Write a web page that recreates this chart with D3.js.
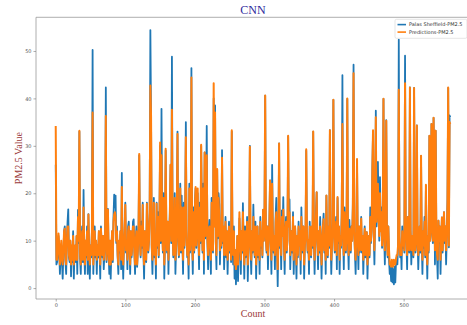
<!DOCTYPE html>
<html>
<head>
<meta charset="utf-8">
<script src="https://cdn.jsdelivr.net/npm/d3@7"></script>
<style>
  html, body { margin: 0; padding: 0; background: #fff; }
  svg { display: block; }
</style>
</head>
<body>
<svg id="chart" width="467" height="325"></svg>
<script>
// Measured PM2.5 from the Palas Sheffield sensor
const actual = [
  26, 5, 5.5, 7, 11, 8, 3, 6.5, 9, 5.5, 2, 7.5, 12, 13, 5.5, 3, 10, 14, 16.6, 6.5,
  5.5, 10, 2.5, 8.5, 5.5, 12, 2, 7.5, 9, 5.5, 11, 3, 16.5, 9.5, 33, 6.5, 3, 9.5, 13, 5.5,
  20.7, 7.5, 3, 10, 6.5, 13, 3, 15.6, 7.5, 2, 9, 6.5, 12, 50.2, 3, 8.5, 13, 6.5, 10, 3,
  9, 6.5, 12, 7.5, 2, 13, 8.5, 6.5, 11, 4, 7.5, 12, 42.3, 5.5, 9, 16.7, 7.5, 3, 10, 2,
  8, 12, 5.5, 15, 19.7, 17, 19.5, 9.5, 13, 6.5, 3, 10, 7.5, 12, 4, 24.3, 7.5, 2, 9, 12,
  18, 7.5, 10, 4, 13, 14, 8.5, 3, 12, 6.5, 9, 14, 14.5, 7.5, 3, 10, 13, 4.5, 8, 12,
  28, 10, 6.5, 14, 8.5, 18, 7.5, 2, 12, 9.5, 5.5, 18, 12, 7.5, 10, 16, 54.4, 36, 8.5, 3,
  11, 19, 6.5, 10, 2, 18, 8.5, 16, 6.5, 14, 30, 9.5, 37.8, 13, 7.5, 20, 2, 9.5, 29, 12,
  7.5, 14, 3, 11, 16, 26, 9.5, 48.8, 12, 6.5, 10, 20, 3, 8.5, 17, 33, 10, 6.5, 9, 22,
  7.5, 19.5, 10, 3, 18, 8.5, 16, 35, 12, 6.5, 9, 2, 22, 7.5, 11, 46.4, 9.5, 3, 17, 7.5,
  18, 21, 8.5, 14, 20, 10.5, 4, 18, 9.5, 30, 16, 7.5, 22, 3, 28.6, 10.5, 15, 34.2, 9.5, 4,
  12, 14.4, 8.5, 3, 19, 10.5, 7.5, 40, 13, 38.5, 9.5, 4, 25, 10.5, 20, 17.6, 5, 12, 8.5, 29.1,
  9.5, 13, 4, 10, 15, 6.5, 12, 3, 9, 14, 7.5, 11, 5.5, 33, 9.5, 5, 13, 2, 8, 0.8,
  5.5, 11, 1.5, 8.5, 14.7, 9.5, 3, 12, 7.5, 17.9, 9, 2, 13, 6.5, 10, 15, 1.5, 8, 11, 30,
  8.5, 3, 12, 7.5, 17.6, 10, 6.5, 14, 2, 9, 13, 6.5, 11, 3, 15, 8.5, 12, 6.5, 16.5, 10,
  14, 40.6, 11, 7.5, 13, 4, 10, 14, 22.7, 9.5, 3, 26, 12, 7.5, 11, 4, 15, 19, 8.5, 0.4,
  10, 30.5, 8.5, 13, 4, 16.4, 11, 19.2, 9.5, 3, 12, 15, 7.5, 10, 32, 13, 18.7, 4, 9, 12,
  7.5, 16, 3, 10, 13, 8.5, 2, 11, 6.5, 14, 9, 12, 3, 17, 10, 7.5, 13, 2, 9, 11,
  29, 12, 7.5, 10, 3, 14, 9, 6.5, 13, 8.5, 33, 11, 3, 10, 16, 20.2, 9.5, 4, 12, 7.5,
  15, 10, 2, 9, 13, 15.7, 7.5, 11, 3, 19.5, 10, 6.5, 13, 8.5, 33.3, 11, 3, 9, 14, 39.7,
  12, 7.5, 10, 15, 4, 19, 9.5, 13, 3, 11, 8.5, 16, 44.9, 10.5, 4, 17, 12, 7.5, 14, 39.9,
  9.5, 4, 14.4, 11, 7.5, 13, 10, 18, 47.1, 12, 7.5, 3, 11, 27, 9.5, 4, 13, 7.5, 10, 15,
  7.5, 11, 3, 9, 13, 6.5, 10, 11.8, 2, 8, 11, 6.5, 17, 9.5, 13, 24.8, 33, 11, 5, 15,
  37.4, 13, 18, 26.6, 15, 10, 23.4, 12, 17, 8.5, 14, 39.9, 11, 5, 15, 35.4, 10, 6.5, 13, 6,
  3, 4.5, 1.5, 5.5, 1.2, 4, 0.8, 4.5, 1.2, 5.5, 6.5, 5, 9, 52.4, 11, 6.5, 9, 4, 13, 8.5,
  11, 7.5, 49, 13, 9.5, 4, 15, 10, 7.5, 42.3, 12, 5, 11, 9.5, 6.5, 42.2, 13, 7.5, 10, 34.3,
  11, 4, 9, 13, 7.5, 27.9, 10, 3, 12, 8.5, 15, 6.5, 21.6, 9, 2, 11, 7.5, 32.1, 10, 13,
  34.6, 12, 9.5, 35.9, 24, 5, 33.2, 11, 6.5, 2, 14.2, 9.5, 13, 3, 10, 14.9, 7.5, 12, 16, 9.5,
  13, 5, 11, 19, 42.2, 8.6, 36.4, 36
];

// CNN model predictions for the same samples
const predicted = [
  34.2, 6, 6, 8, 11.5, 9, 5, 7, 10, 6, 5, 8, 12, 12.5, 6, 5, 10, 13, 13, 7,
  6, 10, 5, 9, 6, 11, 5, 8, 9, 6, 11, 6, 15, 10, 33.2, 7, 5, 10, 12, 6,
  17, 8, 5, 10, 7, 12, 6, 15.5, 8, 5, 9, 7, 12, 37, 5, 9, 12, 7, 10, 6,
  9, 7, 12, 8, 5, 12.5, 9, 7, 11, 6, 8, 12, 36.3, 6, 9, 16.5, 8, 5, 10, 5,
  8, 12, 6, 14, 15.5, 16, 15, 10, 12, 7, 5, 10, 8, 12, 6, 21.3, 8, 5, 9, 12,
  17.5, 8, 10, 6, 12, 13, 9, 5, 12, 7, 9, 13, 13, 8, 5, 10, 12, 5, 8, 12,
  28.3, 10, 7, 13, 9, 17.5, 8, 5, 12, 10, 6, 17.8, 12, 8, 10, 15, 42.7, 36.3, 9, 6,
  11, 18, 7, 10, 5, 17.8, 9, 15, 7, 13, 30.7, 10, 28, 13, 8, 19, 5, 10, 29.4, 12,
  8, 14, 6, 11, 15, 26, 10, 37.6, 12, 7, 10, 19, 6, 9, 16, 32.5, 11, 7, 9, 21,
  8, 17, 10, 6, 17, 9, 15, 31.8, 12, 7, 9, 5, 21, 8, 11, 44.4, 10, 6, 16, 8,
  17, 21.3, 9, 14, 21, 11, 7, 17, 10, 30.2, 15, 8, 21, 6, 28.6, 11, 14, 28, 10, 7,
  12, 13, 9, 6, 18, 11, 8, 43.2, 13, 37, 10, 7, 25.1, 11, 19, 15, 8, 12, 9, 27.5,
  10, 13, 7, 10, 14, 7, 12, 6, 9, 13, 8, 11, 6, 33.3, 10, 7, 12, 5, 8, 4,
  6, 11, 5, 9, 16, 10, 6, 12, 8, 16, 9, 5, 12, 7, 10, 14, 5, 8, 11, 29.8,
  9, 6, 12, 8, 15, 10, 7, 13, 5, 9, 13, 7, 11, 6, 14, 9, 12, 7, 16.5, 10,
  14, 40.6, 11, 8, 13, 7, 10, 13, 22.7, 10, 6, 22, 12, 8, 11, 7, 14, 16, 9, 4,
  10, 30.5, 9, 13, 7, 15, 11, 16.5, 10, 6, 12, 14, 8, 10, 32.1, 13, 16, 7, 9, 12,
  8, 15, 6, 10, 13, 9, 5, 11, 7, 13, 9, 12, 6, 15, 10, 8, 13, 5, 9, 11,
  29.3, 12, 8, 10, 6, 13, 9, 7, 13, 9, 33, 11, 6, 10, 15, 20.2, 10, 7, 12, 8,
  13, 10, 5, 9, 13, 14.5, 8, 11, 6, 19.5, 10, 7, 13, 9, 33.3, 11, 6, 9, 13, 39.7,
  12, 8, 10, 14, 7, 19.2, 10, 13, 6, 11, 9, 15, 34.6, 11, 7, 16, 12, 8, 13, 40,
  10, 7, 12.5, 11, 8, 13, 10, 17, 45.3, 12, 8, 6, 11, 27.2, 10, 7, 13, 8, 10, 14.6,
  8, 11, 6, 9, 12.5, 7, 10, 11.8, 5, 8, 11, 7, 15, 10, 13, 24.8, 33.3, 12, 8, 15,
  36, 14, 18, 22, 15, 11, 20, 12, 16, 9, 14, 39.9, 11, 8, 15, 35.3, 11, 7, 13, 8,
  5, 5, 4.5, 6, 5, 4.5, 6, 5, 5, 6, 7, 7, 9, 41.8, 11, 7, 9, 7, 12, 9,
  10.4, 8, 43.2, 13, 10, 7, 15, 10, 8, 42.3, 12, 8, 11, 10, 7, 42.2, 13, 8, 10, 34.3,
  11, 7, 9, 13, 8, 27.9, 10, 6, 12, 9, 14, 7, 21.8, 9, 5, 11, 8, 32.1, 10, 13,
  34.6, 13, 10, 35.9, 22, 8, 33.2, 11, 7, 6, 14.2, 10, 13, 6, 10, 14.9, 8, 12, 16, 10,
  13, 8, 11, 18, 42.3, 9, 35, 34.6
];

const seriesNames = ["Palas Sheffield-PM2.5", "Predictions-PM2.5"];
const seriesColors = ["#1f77b4", "#ff7f0e"];
const xTicks = [0, 100, 200, 300, 400, 500];
const yTicks = [0, 10, 20, 30, 40, 50];

const svg = d3.select("#chart");
const frame = { left: 36, right: 470, top: 17.3, bottom: 299 };

// Matplotlib-style 5% margins around the data range
function padded(lo, hi) {
  const p = (hi - lo) * 0.05;
  return [lo - p, hi + p];
}
const n = actual.length;
const all = actual.concat(predicted);
const x = d3.scaleLinear().domain(padded(0, n - 1)).range([frame.left, frame.right]);
const y = d3.scaleLinear().domain(padded(d3.min(all), d3.max(all))).range([frame.bottom, frame.top]);

svg.append("defs").append("clipPath").attr("id", "axclip")
  .append("rect")
  .attr("x", frame.left).attr("y", frame.top)
  .attr("width", frame.right - frame.left).attr("height", frame.bottom - frame.top);

const plot = svg.append("g").attr("clip-path", "url(#axclip)");
const line = d3.line().x((d, i) => x(i)).y(d => y(d));
const widths = [1.8, 2];

[actual, predicted].forEach((vals, k) => {
  plot.append("path")
    .datum(vals)
    .attr("fill", "none")
    .attr("stroke", seriesColors[k])
    .attr("stroke-width", widths[k])
    .attr("stroke-linejoin", "round")
    .attr("d", line);
});

// Axes box
const spine = "#9a9a9a";
[[frame.left, frame.top, frame.left, frame.bottom],
 [frame.left, frame.bottom, frame.right, frame.bottom],
 [frame.left, frame.top, frame.right, frame.top],
 [frame.right, frame.top, frame.right, frame.bottom]].forEach(s => {
  svg.append("line")
    .attr("x1", s[0]).attr("y1", s[1]).attr("x2", s[2]).attr("y2", s[3])
    .attr("stroke", spine).attr("stroke-width", 0.8);
});

// Tick marks and labels
const xAxis = svg.append("g").attr("transform", `translate(0,${frame.bottom})`)
  .call(d3.axisBottom(x).tickValues(xTicks).tickSize(2.5).tickPadding(2));
const yAxis = svg.append("g").attr("transform", `translate(${frame.left},0)`)
  .call(d3.axisLeft(y).tickValues(yTicks).tickSize(2.5).tickPadding(2));
[xAxis, yAxis].forEach(a => {
  a.select(".domain").remove();
  a.selectAll(".tick line").attr("stroke", "#777").attr("stroke-width", 0.6);
  a.selectAll(".tick text")
    .attr("fill", "#555")
    .style("font-family", "'DejaVu Sans', sans-serif")
    .style("font-size", "5px");
});

// Title and axis titles
svg.append("text")
  .attr("x", (frame.left + frame.right) / 2).attr("y", 14)
  .attr("text-anchor", "middle")
  .style("font-family", "'Liberation Serif', 'DejaVu Serif', serif")
  .style("font-size", "12px")
  .attr("fill", "#2e2a9c")
  .text("CNN");

svg.append("text")
  .attr("x", (frame.left + frame.right) / 2).attr("y", 317)
  .attr("text-anchor", "middle")
  .style("font-family", "'Liberation Serif', 'DejaVu Serif', serif")
  .style("font-size", "10px")
  .attr("fill", "#9b3a3a")
  .text("Count");

svg.append("text")
  .attr("transform", `translate(22,${(frame.top + frame.bottom) / 2}) rotate(-90)`)
  .attr("text-anchor", "middle")
  .style("font-family", "'Liberation Serif', 'DejaVu Serif', serif")
  .style("font-size", "10px")
  .attr("fill", "#9b3a3a")
  .text("PM2.5 Value");

// Legend, upper right
const legend = svg.append("g").attr("transform", "translate(395,19.3)");
legend.append("rect")
  .attr("width", 72).attr("height", 19)
  .attr("rx", 1.5)
  .attr("fill", "#fff").attr("fill-opacity", 0.85)
  .attr("stroke", "#d5d5d5").attr("stroke-width", 0.6);
seriesNames.forEach((name, k) => {
  const g = legend.append("g").attr("transform", `translate(0,${5.3 + k * 7.5})`);
  g.append("line").attr("x1", 2.5).attr("x2", 11).attr("y1", 0).attr("y2", 0)
    .attr("stroke", seriesColors[k]).attr("stroke-width", 1.6);
  g.append("text").attr("x", 14).attr("y", 1.8)
    .style("font-family", "'DejaVu Sans', sans-serif")
    .style("font-size", "5px")
    .attr("fill", "#333")
    .text(name);
});
</script>
</body>
</html>
